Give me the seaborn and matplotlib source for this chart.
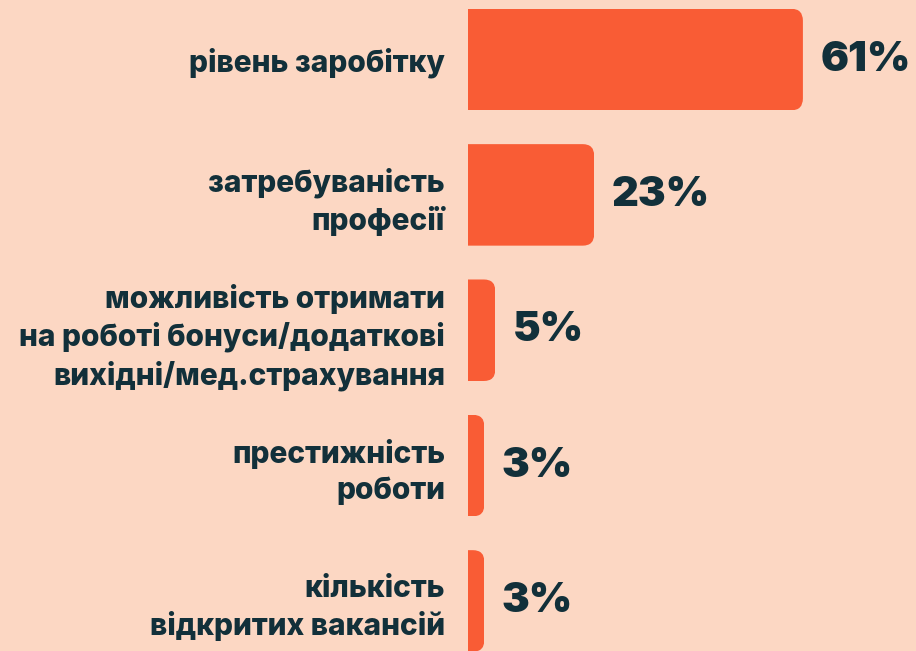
import matplotlib
matplotlib.use("Agg")
import matplotlib.pyplot as plt
import seaborn as sns
import pandas as pd
from matplotlib.patches import FancyBboxPatch

categories = [
    "рівень заробітку",
    "затребуваність\nпрофесії",
    "можливість отримати\nна роботі бонуси/додаткові\nвихідні/мед.страхування",
    "престижність\nроботи",
    "кількість\nвідкритих вакансій",
]
values = [61, 23, 5, 3, 3]
value_labels = ["61%", "23%", "5%", "3%", "3%"]

BG = "#FCD7C3"
BAR = "#F95C35"
TXT = "#12303A"

sns.set_theme(style="white")
plt.rcParams["font.family"] = ["Inter", "DejaVu Sans"]

df = pd.DataFrame({"cat": categories, "val": values})

fig = plt.figure(figsize=(9.16, 6.51), dpi=100, facecolor=BG)
ax = fig.add_axes([468 / 916, 0, 448 / 916, 1])
ax.set_facecolor(BG)

sns.barplot(data=df, x="val", y="cat", orient="h", color=BAR, width=0.75,
            saturation=1, ax=ax)

ax.set_xlim(0, 81.6)
ax.set_ylim(4.37, -0.44)
for s in ax.spines.values():
    s.set_visible(False)
ax.set_xticks([])
ax.set_xlabel("")
ax.set_ylabel("")
ax.tick_params(axis="y", length=0, pad=16.5)
for t in ax.get_yticklabels():
    t.set_fontsize(21.5)
    t.set_fontweight("heavy")
    t.set_color(TXT)
    t.set_linespacing(1.33)
    t.set_multialignment("right")

# rounded right corners via clip paths
r = 2.1
asp = 0.0415
for p in ax.patches:
    x, y, w, h = p.get_x(), p.get_y(), p.get_width(), p.get_height()
    clip = FancyBboxPatch((x - r, y), w + r, h,
                          boxstyle=f"round,pad=0,rounding_size={r}",
                          mutation_aspect=asp, transform=ax.transData,
                          facecolor="none", edgecolor="none")
    p.set_clip_path(clip)
    p.set_edgecolor("none")

for p, lab in zip(ax.patches, value_labels):
    ax.annotate(lab, (p.get_x() + p.get_width(), p.get_y() + p.get_height() / 2),
                xytext=(12.5, 0), textcoords="offset points",
                ha="left", va="center", fontsize=30, fontweight="black",
                color=TXT, annotation_clip=False)

fig.savefig("out.png", dpi=100, facecolor=BG)
